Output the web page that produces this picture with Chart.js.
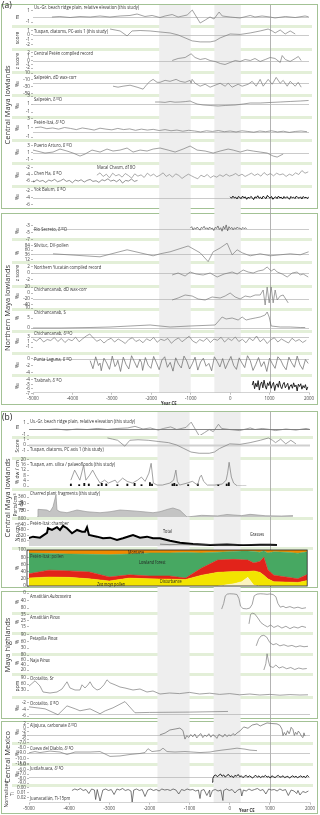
<!DOCTYPE html>
<html>
<head>
<meta charset="utf-8">
<title>Palaeoclimate and land-use records, Maya region</title>
<script src="https://cdn.jsdelivr.net/npm/chart.js@4.4.1/dist/chart.umd.min.js"></script>
<style>
  html,body{margin:0;padding:0;background:#fff;}
  #fig{position:relative;width:320px;height:815px;overflow:hidden;font-family:"Open Sans",sans-serif;color:#333;}
  #fig canvas{position:absolute;left:0;}
  .box{position:absolute;left:1px;width:317px;border:1px solid #a3c295;box-sizing:border-box;}
  .t{position:absolute;font-size:5.2px;line-height:6px;white-space:nowrap;color:#333;transform:scaleX(0.8);transform-origin:0 0;}
  .s{position:absolute;font-size:4.8px;line-height:5px;white-space:nowrap;color:#222;transform:scaleX(0.8);transform-origin:0 0;}
  .u{position:absolute;font-size:5px;line-height:5.5px;white-space:nowrap;text-align:center;transform:translate(-50%,-50%) rotate(-90deg);}
  .reg{position:absolute;font-size:7.5px;white-space:nowrap;transform:translate(-50%,-50%) rotate(-90deg);color:#333;}
  .pl{position:absolute;font-size:8.5px;line-height:9px;color:#222;}
  sup{font-size:70%;line-height:0;position:relative;top:-0.35em;vertical-align:baseline;}
</style>
</head>
<body>
<div id="fig"></div>
<script>
const F = '"Open Sans", sans-serif';
Chart.defaults.font.family = F;

// ---------- data: [year CE, value] ----------
const usgr = [[-4520,-0.09],[-4320,0],[-4060,-0.18],[-3810,0],[-3550,-0.09],[-3300,0.09],[-3050,-0.09],[-2790,0.09],[-2540,0.18],[-2360,0.44],[-2160,0],[-1980,0.18],[-1780,-0.18],[-1650,0.09],[-1470,0.35],[-1320,-0.09],[-1090,0.26],[-960,1.14],[-760,-1.15],[-630,-0.61],[-510,-0.09],[-410,-0.44],[-280,0.79],[-200,0.09],[0,-0.09],[250,-0.26],[510,0.18],[630,-0.09],[810,0.09],[1010,-0.09],[1140,-0.26],[1400,0],[1650,-0.18],[1900,0.09],[1990,-0.05]];
const tuspanDiatoms = [[-3046,1.28],[-2919,1.07],[-2792,0.86],[-2614,-0.21],[-2487,0.86],[-2284,0.96],[-2030,0.86],[-1777,0.64],[-1523,0.43],[-1320,0],[-1142,-0.64],[-964,-1.28],[-761,-1.5],[-508,-1.5],[-381,-1.28],[-254,-0.64],[0,0.21],[254,0.11],[508,0.43],[761,0.86],[964,1.28],[1066,0.86],[1142,0.43],[1269,1.07],[1396,0.21],[1523,0.86],[1650,0.21]];
const centralPeten = [[-1470,0],[-1320,0.53],[-1140,0.79],[-990,1.76],[-890,0.79],[-760,0.26],[-630,0.53],[-510,0],[-380,-0.26],[-250,-0.79],[-130,-1.05],[0,-0.53],[130,0],[250,-0.26],[380,0.26],[510,0],[630,0.53],[760,-0.26],[890,0.26],[1015,0.79],[1140,0.53],[1270,-0.53],[1320,1.3],[1400,0.26],[1520,-0.26],[1650,0.53],[1730,1.05],[1800,0]];
const salpetenDD = [[-2970,-29],[-2843,-31.9],[-2716,-29],[-2538,-26.1],[-2360,-31.9],[-2208,-37.7],[-2107,-23.2],[-2030,-14.6],[-1954,-8.8],[-1853,-17.5],[-1777,-17.5],[-1650,-11.7],[-1523,-14.6],[-1371,-8.8],[-1269,-14.6],[-1142,-17.5],[-1015,-11.7],[-990,-20.3],[-964,-8.8],[-888,-20.3],[-761,-29],[-634,-23.2],[-508,-31.9],[-381,-26.1],[-254,-20.3],[-127,-29],[-51,-20.3],[51,-31.9],[203,-23.2],[305,-29],[457,-23.2],[558,-14.6],[660,-29],[761,-8.8],[838,-29],[965,-8.8],[1066,-23.2],[1168,-3],[1269,-20.3],[1345,-11.7],[1447,-29],[1523,-14.6],[1650,-29],[1726,-17.5],[1802,-31.9]];
const salpetenO = [[-1904,1.5],[-1777,1.5],[-1650,1.4],[-1523,1.63],[-1400,1.45],[-1269,1.5],[-1140,1.6],[-1015,1.75],[-964,1.5],[-838,1],[-685,0.75],[-508,0.63],[-305,0.5],[-127,0.63],[127,0.75],[330,1],[508,1.25],[761,1.25],[1015,1.38],[1269,1.5],[1523,1.63],[1777,1.75],[1990,1.88]];
const petenItza = [[-4950,1.0],[-4800,1.15],[-4650,0.8],[-4500,0.95],[-4350,0.7],[-4200,1.05],[-4050,0.85],[-3900,0.6],[-3750,0.95],[-3600,0.75],[-3450,0.5],[-3300,0.9],[-3150,0.7],[-3000,0.55],[-2850,0.85],[-2700,0.6],[-2550,0.75],[-2400,0.45],[-2250,0.7],[-2100,0.5],[-1950,0.65],[-1800,0.4],[-1650,0.6],[-1500,0.35],[-1350,0.5],[-1200,0.25],[-1050,0.45],[-900,0.3],[-750,0.1],[-600,0.35],[-450,0.2],[-300,0.4],[-150,0.15],[0,0.3],[150,0.1],[300,0.35],[450,0.2],[600,0.05],[750,0.3],[900,0.15],[1050,0.35],[1200,0.1],[1350,0.25],[1500,0.0],[1650,0.2],[1800,0.3],[1950,0.15]];
const puertoArturo = [[-5000,1.71],[-4898,1.43],[-4695,0.86],[-4492,1.14],[-4315,2],[-4137,1.43],[-3985,0.86],[-3807,0],[-3680,0.57],[-3503,1.71],[-3299,1.14],[-3122,2],[-2970,1.43],[-2792,1.71],[-2614,2.29],[-2462,1.14],[-2284,1.71],[-2107,1.43],[-1954,2],[-1777,2.29],[-1574,1.71],[-1396,1.14],[-1193,2],[-1015,2.86],[-838,1.71],[-634,1.43],[-431,0.86],[-254,1.43],[-51,2],[76,1.71],[254,1.14],[432,1.71],[584,1.43],[761,1.14],[939,0.86],[1091,0],[1193,-0.29],[1345,0.57]];
const chenHa = [[-5000,-5.9],[-4980,-6.3],[-4900,-5.6],[-4830,-6.1],[-4750,-5.8],[-4680,-6.4],[-4600,-5.7],[-4530,-6.0],[-4450,-5.5],[-4380,-6.2],[-4300,-5.9],[-4230,-5.4],[-4150,-6.1],[-4080,-5.8],[-4000,-6.5],[-3930,-5.7],[-3850,-6.0],[-3780,-5.6],[-3700,-6.3],[-3630,-5.8],[-3550,-5.5],[-3480,-6.1],[-3400,-5.9],[-3330,-6.4],[-3250,-5.6],[-3180,-5.9],[-3100,-5.3],[-3030,-6.0],[-2950,-5.7],[-2880,-6.2],[-2800,-5.5],[-2730,-6.6],[-2650,-5.8],[-2580,-6.0],[-2500,-5.4],[-2430,-6.1],[-2350,-5.8]];
const macalChasm = [[-3380,-4.2],[-3300,-3.5],[-3220,-4.6],[-3140,-3.9],[-3060,-5.0],[-2980,-3.6],[-2900,-4.4],[-2820,-4.0],[-2740,-4.8],[-2660,-3.7],[-2580,-4.3],[-2500,-5.1],[-2420,-3.8],[-2340,-4.5],[-2260,-4.1],[-2180,-4.9],[-2100,-3.6],[-2020,-4.4],[-1940,-3.9],[-1860,-4.7],[-1780,-4.2],[-1700,-3.5],[-1620,-4.6],[-1540,-4.0],[-1460,-4.8],[-1380,-3.8],[-1300,-4.3],[-1220,-5.2],[-1140,-4.5],[-1060,-3.9],[-980,-4.4],[-900,-4.9],[-820,-5.3],[-740,-4.2],[-660,-4.7],[-580,-4.0],[-500,-5.0],[-420,-4.4],[-340,-4.8],[-260,-4.1],[-180,-4.6],[-100,-3.9],[-20,-4.5],[60,-4.2],[140,-3.7],[220,-4.4],[300,-3.9],[380,-4.6],[460,-4.1],[540,-3.6],[620,-4.3],[700,-3.8],[780,-4.5],[860,-3.4],[940,-4.2],[1020,-3.7],[1100,-4.4],[1180,-3.6],[1260,-4.1],[1340,-3.8],[1420,-4.6],[1500,-3.9],[1580,-4.3],[1660,-3.5],[1740,-4.0],[1820,-2.8],[1900,-3.6],[1980,-3.2]];
const yokBalum = [[0,-3.8],[35,-4.2],[70,-3.6],[105,-4.1],[140,-3.9],[175,-4.4],[210,-3.7],[245,-4.0],[280,-4.3],[315,-3.6],[350,-4.1],[385,-3.8],[420,-4.5],[455,-3.9],[490,-4.2],[525,-3.7],[560,-4.0],[595,-4.6],[630,-3.8],[665,-4.1],[700,-3.5],[735,-4.2],[770,-3.9],[805,-4.4],[840,-3.6],[875,-4.0],[910,-4.3],[945,-3.4],[980,-3.9],[1015,-4.2],[1050,-3.7],[1085,-4.5],[1120,-4.0],[1155,-3.8],[1190,-4.3],[1225,-3.6],[1260,-4.1],[1295,-3.9],[1330,-4.4],[1365,-3.7],[1400,-4.2],[1435,-3.8],[1470,-4.0],[1505,-4.5],[1540,-3.7],[1575,-4.1],[1610,-3.9],[1645,-4.3],[1680,-3.6],[1715,-4.0],[1750,-4.2],[1785,-3.8],[1820,-4.4],[1855,-3.7],[1890,-4.1],[1925,-3.9],[1960,-4.3],[1990,-3.8]];
const rioSecreto = [[-1010,-3.6],[-975,-3.2],[-940,-4.1],[-905,-3.5],[-870,-3.9],[-835,-3.3],[-800,-3.8],[-765,-4.2],[-730,-3.4],[-695,-3.7],[-660,-3.1],[-625,-3.9],[-590,-3.5],[-555,-4.0],[-520,-3.3],[-485,-3.8],[-450,-3.6],[-415,-4.3],[-380,-3.4],[-345,-3.7],[-310,-3.0],[-275,-4.0],[-240,-3.5],[-205,-4.5],[-170,-3.1],[-135,-3.9],[-100,-2.7],[-65,-4.4],[-30,-3.2],[5,-3.8],[40,-3.4],[75,-4.1],[110,-3.5],[145,-3.9],[180,-3.3],[215,-3.7],[250,-3.6],[285,-4.0],[320,-3.4],[355,-3.8],[390,-3.5],[420,-3.9]];
const silvituc = [[-4492,41],[-3300,26],[-2614,61],[-2284,46],[-1954,31],[-1777,41],[-1523,51],[-1066,80],[-761,46],[-558,2],[-431,51],[-254,70],[-76,94],[51,36],[178,61],[305,46],[508,31],[761,41],[1015,31],[1269,36],[1523,41],[1777,36],[1990,51]];
const nYucatan = [[-1472,-0.6],[-1320,0],[-1142,-0.9],[-1015,0.3],[-863,-0.3],[-685,-0.6],[-508,0],[-330,-1.2],[-152,-0.3],[51,0.3],[178,-0.3],[330,0.9],[457,0.3],[584,0],[711,0.6],[838,0.9],[939,1.8],[1041,0.6],[1117,1.2],[1193,0.3],[1320,-0.3],[1447,-1.2],[1574,0],[1701,0.3],[1777,-0.6],[1853,-0.3],[1980,-1.2]];
const chichDD = [[-1472,-23.3],[-1320,-16.7],[-1142,-6.7],[-964,-10],[-812,-20],[-634,-23.3],[-457,-13.3],[-254,-16.7],[-127,-10],[0,0],[127,-13.3],[254,-20],[381,-10],[508,-13.3],[635,-6.7],[761,-6.7],[838,10],[888,-40],[939,20],[990,-33],[1041,20],[1091,-33],[1142,10],[1193,-23.3],[1269,-10],[1345,-6.7],[1472,-33]];
const chichS = [[-5000,0],[-4315,0],[-3553,0.25],[-3046,0.5],[-2538,1],[-2030,1.5],[-1777,1],[-1523,0.5],[-1015,1],[-381,1.5],[-203,5.5],[-102,4.5],[51,5],[203,4],[305,5.5],[406,4],[508,4.5],[635,5],[761,5.5],[888,6.5],[939,8],[990,5.5],[1041,1],[1269,0.5],[1523,0.5],[1777,0.25],[1904,0.25]];
const chichO = [[-5000,2.2],[-4910,1.4],[-4820,2.6],[-4730,1.0],[-4640,2.0],[-4550,1.6],[-4460,2.8],[-4370,1.2],[-4280,2.4],[-4190,0.8],[-4100,2.1],[-4010,1.5],[-3920,2.9],[-3830,1.1],[-3740,2.3],[-3650,3.4],[-3560,4.2],[-3470,2.6],[-3380,1.3],[-3290,2.0],[-3200,0.6],[-3110,1.8],[-3020,2.5],[-2930,1.0],[-2840,2.2],[-2750,1.4],[-2660,0.4],[-2570,2.0],[-2480,2.7],[-2390,1.2],[-2300,1.9],[-2210,0.7],[-2120,2.3],[-2030,1.5],[-1940,2.8],[-1850,0.9],[-1760,2.1],[-1670,1.6],[-1580,2.4],[-1490,0.5],[-1400,1.8],[-1310,2.6],[-1220,1.1],[-1130,2.2],[-1040,3.3],[-950,1.4],[-860,0.6],[-770,2.0],[-680,1.3],[-590,2.5],[-500,0.8],[-410,2.2],[-320,1.7],[-230,2.9],[-140,1.0],[-50,2.4],[40,1.6],[130,3.0],[220,1.2],[310,2.1],[400,0.7],[490,2.6],[580,1.5],[670,3.4],[760,1.1],[850,2.3],[940,0.4],[1030,1.9],[1120,2.7],[1210,1.0],[1300,2.2],[1390,1.4],[1480,0.6],[1570,2.5],[1660,1.3],[1750,2.0],[1840,0.8],[1930,1.7]];
const puntaLaguna = [[-3550,-0.5],[-3480,-2.8],[-3410,0.6],[-3340,-1.9],[-3300,-1.2],[-3270,-3.4],[-3200,0.2],[-3130,-1.2],[-3060,-3.0],[-2990,0.8],[-2920,-2.2],[-2880,-1.5],[-2850,-0.4],[-2780,-3.6],[-2710,0.5],[-2640,-1.6],[-2570,-2.9],[-2500,0.9],[-2430,-0.8],[-2360,-2.5],[-2290,-0.1],[-2250,-1.0],[-2220,-3.3],[-2150,0.4],[-2080,-1.8],[-2010,-2.7],[-1940,0.7],[-1870,-1.1],[-1800,-3.1],[-1730,-0.3],[-1660,0.6],[-1590,-2.4],[-1520,-1.0],[-1450,-3.5],[-1380,0.3],[-1310,-1.5],[-1240,-2.6],[-1170,0.8],[-1100,-0.6],[-1030,-2.9],[-960,-1.4],[-890,0.5],[-820,-3.2],[-750,-0.9],[-680,0.2],[-610,-2.1],[-540,-1.3],[-470,-3.4],[-400,0.6],[-330,-0.7],[-260,-2.3],[-190,0.1],[-120,-2.8],[-50,-1.0],[20,0.7],[90,-1.9],[160,-3.0],[230,0.3],[300,-1.2],[370,-2.5],[440,0.9],[510,-0.5],[580,-3.3],[650,-1.6],[720,0.4],[790,-2.2],[860,-0.8],[930,-3.6],[1000,0.2],[1070,-1.4],[1140,-2.7],[1210,0.6],[1280,-0.3],[1350,-2.0],[1420,-3.1],[1490,0.5],[1560,-1.1],[1630,-2.4],[1700,0.8],[1770,-1.7],[1840,-3.0],[1910,-0.2],[1980,-1.3]];
const tzabnah = [[560,-5.2],[590,-4.3],[620,-6.0],[650,-4.8],[680,-5.6],[710,-4.2],[740,-6.3],[770,-5.0],[800,-4.5],[830,-5.8],[860,-4.1],[890,-5.4],[920,-6.1],[950,-4.7],[980,-5.3],[1010,-4.4],[1040,-5.9],[1070,-5.1],[1100,-4.6],[1130,-6.4],[1160,-5.2],[1190,-4.9],[1220,-5.7],[1250,-4.3],[1280,-5.5],[1310,-6.0],[1340,-5.0],[1370,-4.6],[1400,-5.8],[1430,-5.3],[1460,-4.8],[1490,-6.2],[1520,-5.4],[1550,-5.1],[1580,-5.9],[1610,-4.7],[1640,-5.6],[1670,-5.2],[1700,-6.5],[1730,-5.0],[1760,-5.5],[1790,-4.9],[1820,-6.1],[1850,-5.3],[1880,-5.8],[1910,-5.1],[1940,-6.3],[1970,-5.6]];

const amSilica = [[-4776,4.4],[-4651,11.9],[-4477,4.4],[-4352,15.6],[-4278,4.4],[-4153,8.1],[-4053,11.9],[-3929,6.7],[-3804,2.2],[-3655,4.4],[-3530,2.2],[-3306,4.4],[-3231,2.2],[-3057,5.9],[-2908,3.5],[-2733,2.2],[-2559,4.4],[-2434,6.7],[-2310,3.5],[-2185,9.6],[-2110,17],[-2036,2.2],[-1911,0.7],[-1737,0.7],[-1488,2.2],[-1363,4.4],[-1288,11.9],[-1239,3.5],[-1164,0.7],[-915,2.2],[-740,3.5],[-566,0.7],[-491,6.7],[-442,8.1],[-367,3.5],[-242,0.7],[7,0.7],[256,1.5],[381,4.4],[430,9.6],[480,17.8],[555,6.7],[630,2.2],[754,0],[929,0],[1053,0]];
const palaeofloods = [[-4776,1.5],[-4500,1],[-4330,2],[-4180,1.5],[-3860,1],[-3750,2],[-3600,1.5],[-3230,1],[-2900,1.5],[-2660,2],[-2430,1],[-2150,2.5],[-2080,1.5],[-1400,1.5],[-1340,2],[-1260,1],[-880,1],[-560,1.5],[120,1],[400,1.5],[470,2.5]];
const charred = [[-4800,0],[-4776,138],[-4552,126],[-4477,95],[-4402,185],[-4328,396],[-4303,126],[-4228,95],[-4053,77],[-3804,126],[-3555,95],[-3231,77],[-2982,95],[-2733,126],[-2409,110],[-2160,95],[-1911,77],[-1737,95],[-1538,140],[-1413,162],[-1239,120],[-1064,0],[-700,30],[-300,20],[-68,45],[300,25],[505,48],[900,22],[1300,18],[1575,25]];
const chamberTotal = [[-5025,229],[-4900,277],[-4726,247],[-4552,387],[-4527,527],[-4427,476],[-4303,556],[-4228,476],[-4153,595],[-4053,527],[-3929,378],[-3804,476],[-3680,426],[-3605,426],[-3555,556],[-3505,327],[-3306,277],[-3157,229],[-2982,247],[-2808,179],[-2659,229],[-2484,298],[-2409,327],[-2235,247],[-2061,277],[-1911,229],[-1737,229],[-1488,158],[-1239,98],[-915,60],[-491,30],[-68,45],[331,25],[754,35],[1003,40],[1178,30]];
const chamberGrasses = [[-1737,55],[-1488,40],[-1239,50],[-915,35],[-491,45],[-68,30],[331,40],[754,30],[1003,35],[1178,25]];
const pollenYears = [-5050,-4500,-4000,-3500,-3000,-2500,-2000,-1500,-1100,-700,-300,100,300,450,600,750,850,950,1100,1400,1700,1930];
const zeaPollen   = [0,0,0,0,0,0,0,0,0,0,0,6,12,24,2,0,0,0,0,0,0,0];
const disturbance = [22,25,24,20,14,22,20,19,18,30,38,34,28,16,40,38,30,20,12,11,10,15];
const redGroup    = [11,19,18,19,11,9,8,9,4,20,34,34,33,32,22,30,50,25,18,14,10,17];
const lowland     = [59,46,47,49,62,58,64,64,71,42,22,22,24,25,32,26,18,47,65,69,71,63];
const montane     = [8,10,11,12,13,11,8,8,7,8,6,4,3,3,4,6,2,8,5,6,9,5];
const zeaMarks    = [-810,-160,260,461,686,835,960,1334];
const aulacoseira = [[-200,85],[-150,55],[-110,15],[-60,6],[0,4],[100,5],[180,8],[230,30],[270,70],[330,82],[420,84],[500,80],[560,60],[610,15],[680,6],[760,4],[850,5],[930,7],[1000,5],[1080,8],[1150,20],[1200,55],[1260,75],[1330,70],[1400,78],[1500,72],[1600,80],[1700,75],[1800,82],[1900,78]];
const amatitlanPinus = [[480,20],[520,36],[560,38],[620,37],[700,30],[780,22],[860,18],[940,15],[1020,18],[1100,14],[1200,17],[1300,13],[1400,16],[1500,12],[1600,15],[1700,13],[1800,16],[1900,14]];
const petapillaPinus = [[660,40],[720,70],[780,85],[850,88],[920,80],[1000,55],[1080,45],[1160,50],[1250,40],[1350,45],[1450,38],[1550,42],[1650,35],[1750,40],[1850,36],[1950,38]];
const najaPinus = [[850,20],[900,45],[930,85],[960,60],[1000,35],[1080,30],[1150,40],[1230,28],[1320,33],[1420,25],[1520,30],[1620,22],[1720,28],[1820,24],[1920,26]];
const ocotalitoSr = [[-5025,45],[-4850,76],[-4726,50],[-4651,20],[-4477,15],[-4303,20],[-4178,35],[-4053,71],[-3979,40],[-3854,30],[-3730,30],[-3680,56],[-3605,40],[-3530,56],[-3480,71],[-3406,45],[-3306,30],[-3231,35],[-3132,56],[-3057,81],[-2982,66],[-2858,56],[-2733,45],[-2609,40],[-2409,30],[-2235,35],[-2061,20],[-1911,25],[-1737,10],[-1500,15],[-1250,12],[-1000,18],[-750,10],[-500,14],[-250,8],[0,12],[250,6],[500,10],[750,5],[1000,8],[1250,4],[1500,7],[1750,5],[1950,6]];
const ocotalitoO = [[-5000,-3.2],[-4600,-3.8],[-4278,-5.6],[-4053,-2.9],[-3850,-3.8],[-3730,-4.4],[-3480,-3.8],[-3231,-5.3],[-3100,-4.4],[-2908,-3.5],[-2609,-1.6],[-2360,-5.0],[-2000,-4.9],[-1000,-4.8],[-43,-4.6]];
const aljojuca = [[-1740,-3.8],[-1610,-2.8],[-1490,-1.2],[-1360,-0.7],[-1240,-0.2],[-1165,-1.5],[-1115,-6.0],[-1070,-4.2],[-1020,-5.1],[-970,-3.6],[-920,-4.8],[-870,-3.3],[-820,-5.4],[-770,-4.0],[-720,-3.1],[-670,-5.2],[-620,-3.9],[-570,-4.6],[-520,-3.2],[-470,-5.0],[-420,-3.7],[-370,-4.4],[-320,-5.6],[-270,-3.5],[-220,-4.1],[-170,-4.9],[-120,-3.4],[-70,-4.7],[-20,-3.8],[30,-4.3],[80,-3.1],[130,-3.9],[180,-2.8],[256,-1.7],[350,0.4],[455,-0.3],[560,1.4],[680,2.0],[760,0.9],[830,1.6],[930,2.5],[1050,2.2],[1178,2.0],[1250,1.2],[1302,-0.8],[1327,-4.2],[1360,-2.5],[1400,-3.9],[1440,-1.6],[1480,-3.2],[1502,-2.0],[1530,0.2],[1576,-1.0],[1610,-4.1],[1640,-2.4],[1676,-3.6],[1710,-1.8],[1750,-2.9],[1790,-4.6],[1825,-5.2],[1850,-2.7],[1875,-4.4]];
const cuevaDiablo = [[-5000,-8.96],[-4851,-8.72],[-4726,-8.91],[-4477,-8.63],[-4228,-8.81],[-4053,-9.28],[-3854,-8.81],[-3480,-8.81],[-3231,-8.72],[-2982,-9.65],[-2733,-9.56],[-2484,-9.28],[-2235,-9.09],[-2110,-8.91],[-2036,-8.17],[-1936,-8.72],[-1737,-8.54],[-1662,-8.07],[-1562,-8.72],[-1363,-8.81],[-1114,-8.72],[-740,-8.91],[-491,-8.81],[-367,-8.63],[-192,-8.44],[7,-8.26],[181,-8.07],[381,-8.26],[505,-8.44],[680,-8.54]];
const juxtlahuaca = [[-440,-8.8],[-420,-8.0],[-390,-7.4],[-350,-7.2],[-310,-7.6],[-270,-7.3],[-230,-7.0],[-190,-7.5],[-150,-7.2],[-110,-7.7],[-70,-7.3],[-30,-7.1],[10,-7.6],[50,-7.4],[90,-7.8],[130,-7.3],[170,-7.5],[210,-7.1],[250,-7.6],[290,-7.4],[330,-7.8],[370,-7.5],[410,-7.3],[450,-7.7],[490,-7.4],[530,-7.6],[570,-7.9],[610,-7.5],[650,-7.3],[690,-7.7],[730,-7.4],[770,-7.8],[810,-7.5],[850,-7.6],[890,-7.3],[930,-7.7],[970,-7.5],[1010,-7.9],[1050,-7.4],[1090,-7.6],[1130,-7.8],[1170,-7.5],[1210,-7.3],[1250,-7.7],[1290,-7.6],[1330,-7.4],[1370,-7.8],[1410,-7.6],[1450,-7.5],[1490,-7.9],[1530,-7.6],[1570,-7.4],[1610,-7.7],[1650,-7.5],[1690,-7.8],[1730,-7.6],[1770,-7.4],[1810,-7.7],[1850,-7.5],[1890,-7.8],[1930,-7.3],[1970,-7.6]];
const juanacatlan = [[-3930,0.006],[-3860,0.003],[-3790,0.005],[-3720,0.002],[-3650,0.006],[-3580,0.004],[-3510,0.012],[-3440,0.003],[-3370,0.005],[-3340,0.024],[-3300,0.004],[-3230,0.027],[-3160,0.005],[-3090,0.003],[-3020,0.006],[-2950,0.004],[-2880,0.014],[-2810,0.003],[-2740,0.005],[-2670,0.002],[-2600,0.006],[-2530,0.004],[-2460,0.007],[-2430,0.029],[-2390,0.005],[-2320,0.003],[-2250,0.006],[-2180,0.004],[-2110,0.018],[-2040,0.005],[-1970,0.003],[-1900,0.006],[-1830,0.004],[-1760,0.007],[-1690,0.003],[-1620,0.005],[-1550,0.004],[-1480,0.006],[-1410,0.003],[-1340,0.005],[-1270,0.013],[-1200,0.004],[-1130,0.006],[-1060,0.003],[-990,0.005],[-920,0.004],[-850,0.007],[-780,0.005],[-740,0.022],[-710,0.006],[-640,0.004],[-570,0.016],[-500,0.005],[-490,0.019],[-430,0.006],[-360,0.004],[-290,0.007],[-220,0.005],[-170,0.026],[-150,0.006],[-80,0.003],[-10,0.006],[60,0.004],[130,0.011],[200,0.005],[270,0.003],[300,0.017],[340,0.005],[410,0.007],[480,0.003],[550,0.006],[620,0.004],[690,0.002],[760,0.006],[830,0.004],[900,0.013],[970,0.003],[1040,0.005],[1110,0.004],[1180,0.007],[1250,0.003],[1320,0.006],[1390,0.004],[1460,0.016],[1530,0.005],[1600,0.007],[1670,0.012],[1700,0.006],[1750,0.015],[1820,0.008],[1890,0.010],[1960,0.007]];

const xTicks = [-5000,-4000,-3000,-2000,-1000,0,1000,2000];
const grayBands = [[-1800,-1000],[-400,270]];
const markYear = 1000;

// ---------- helpers ----------
const fig = document.getElementById('fig');
function pts(p){ return p.map(d => ({x:d[0], y:d[1]})); }
function ln(p, o){
  return Object.assign({type:'line', data:pts(p), borderColor:'#7b7b7b', borderWidth:0.7, pointRadius:0, fill:false, tension:0}, o || {});
}
function canvas(top, h){
  const c = document.createElement('canvas');
  c.width = 320; c.height = h;
  c.style.top = top + 'px';
  fig.appendChild(c);
  return c;
}
function div(cls, html, x, y){
  const d = document.createElement('div');
  d.className = cls; d.innerHTML = html;
  d.style.left = x + 'px'; d.style.top = y + 'px';
  fig.appendChild(d);
  return d;
}
function box(top, bottom){
  const d = document.createElement('div');
  d.className = 'box'; d.style.top = top + 'px'; d.style.height = (bottom - top) + 'px';
  fig.appendChild(d);
}

function bgChart(top, bottom, xl, xr, stripes){
  const c = canvas(top, bottom - top);
  new Chart(c, {
    type:'line',
    data:{datasets:[]},
    options:{
      responsive:false, animation:false, events:[],
      layout:{padding:{left:xl, right:320 - xr, top:0, bottom:0}},
      plugins:{legend:{display:false}, tooltip:{enabled:false}},
      scales:{
        x:{type:'linear', min:-5000, max:2000,
           afterBuildTicks(s){ s.ticks = xTicks.map(v => ({value:v})); },
           ticks:{font:{size:4.4}, color:'#444', padding:1, maxRotation:0, autoSkip:false, callback:v => String(v)},
           grid:{drawOnChartArea:false, tickLength:2, color:'#999', lineWidth:0.6},
           border:{color:'#b5b5b5', width:0.6}},
        y:{display:false, min:0, max:1}
      }
    },
    plugins:[{id:'bg', beforeDraw(ch){
      const ctx = ch.ctx, a = ch.chartArea, x = ch.scales.x;
      ctx.save();
      ctx.fillStyle = '#e3efd8';
      stripes.forEach(s => ctx.fillRect(12, s - top, xr + 3 - 12, 3));
      ctx.fillStyle = '#eeeeee';
      grayBands.forEach(b => {
        const x0 = x.getPixelForValue(b[0]), x1 = x.getPixelForValue(b[1]);
        ctx.fillRect(x0, 0, x1 - x0, a.bottom);
      });
      ctx.strokeStyle = '#a0a0a0'; ctx.lineWidth = 0.8;
      const xm = Math.round(x.getPixelForValue(markYear)) + 0.5;
      ctx.beginPath(); ctx.moveTo(xm, 0); ctx.lineTo(xm, a.bottom); ctx.stroke();
      ctx.restore();
    }}]
  });
}

function rowChart(r, xl, xr){
  const pad = 6;
  const c = canvas(r.top - pad, r.bot - r.top + 2 * pad);
  new Chart(c, {
    type:'line',
    data:{datasets:r.sets},
    options:{
      responsive:false, animation:false, events:[],
      layout:{padding:{left:0, right:320 - xr, top:pad, bottom:pad}},
      plugins:{legend:{display:false}, tooltip:{enabled:false}},
      scales:{
        x:{type:'linear', min:-5000, max:2000, display:false},
        y:{type:'linear', min:r.min, max:r.max, reverse:!!r.rev, stacked:!!r.stacked,
           afterFit(s){ s.width = xl; },
           afterBuildTicks(s){ s.ticks = r.ticks.map(v => ({value:v})); },
           border:{display:false},
           grid:{drawOnChartArea:false, tickLength:2, color:'#777', lineWidth:0.5},
           ticks:{font:{size:4.6}, color:'#444', padding:1, autoSkip:false,
                  callback:v => r.fmt ? r.fmt(v) : String(v)}}
      }
    },
    plugins:[{id:'deco',
      beforeDatasetsDraw(ch){
        if(r.base === undefined) return;
        const ctx = ch.ctx, a = ch.chartArea, y = Math.round(ch.scales.y.getPixelForValue(r.base)) + 0.5;
        ctx.save(); ctx.strokeStyle = r.baseColor || '#b3b3b3'; ctx.lineWidth = r.baseW || 0.7;
        ctx.beginPath(); ctx.moveTo(a.left, y); ctx.lineTo(a.right, y); ctx.stroke(); ctx.restore();
      },
      afterDatasetsDraw(ch){
        if(!r.frame) return;
        const ctx = ch.ctx, a = ch.chartArea, x = ch.scales.x;
        const x0 = x.getPixelForValue(r.frame[0]), x1 = x.getPixelForValue(r.frame[1]);
        ctx.save(); ctx.strokeStyle = '#222'; ctx.lineWidth = 0.8;
        ctx.strokeRect(x0, a.top, x1 - x0, a.bottom - a.top); ctx.restore();
      }}]
  });
}

// ---------- layout: panel (a) ----------
const AXL = 33, AXR = 309;
const rowsA = [
  {top:8, bot:25, min:-1.5, max:1.5, ticks:[1,-1], base:0, sets:[ln(usgr)]},
  {top:28, bot:47, min:-2.6, max:1.5, ticks:[1,0,-1,-2], base:0, sets:[ln(tuspanDiatoms)]},
  {top:51, bot:70, min:-2.5, max:2.5, ticks:[2,1,0,-1,-2], base:0, sets:[ln(centralPeten)]},
  {top:72.5, bot:95, min:-55, max:10, ticks:[10,-10,-30,-50], base:-20, sets:[ln(salpetenDD)]},
  {top:96, bot:116, min:-2, max:3, ticks:[3,1,-1], base:1, sets:[ln(salpetenO)]},
  {top:117, bot:138, min:-1.2, max:3.3, ticks:[3,1,-1], base:0, sets:[ln(petenItza)]},
  {top:141, bot:162, min:-1.7, max:4.3, ticks:[3,1,-1], base:1, sets:[ln(puertoArturo)]},
  {top:164, bot:186, min:-7.5, max:-0.8, ticks:[-2,-4,-6], sets:[ln(chenHa,{borderColor:'#666'}), ln(macalChasm,{borderColor:'#8a8a8a'})]},
  {top:187, bot:207, min:-6.7, max:-1, ticks:[-2,-4,-6], base:-4, sets:[ln(yokBalum,{borderColor:'#111', borderWidth:1})]},
  {top:219, bot:242, min:-7.6, max:-1, ticks:[-3,-5,-7], base:-4, sets:[ln(rioSecreto,{borderColor:'#555'})]},
  {top:243, bot:262.5, min:0, max:95, ticks:[84,60,36,12], base:40, sets:[ln(silvituc)]},
  {top:263, bot:283, min:-3, max:3, ticks:[2,0,-2], base:0, sets:[ln(nYucatan)]},
  {top:285, bot:307, min:-46.7, max:26.7, ticks:[20,0,-20,-40], base:-20, sets:[ln(chichDD)]},
  {top:306, bot:329, min:-0.5, max:11, ticks:[10,5,0], base:0, sets:[ln(chichS)]},
  {top:331, bot:351, min:-2.6, max:5.4, ticks:[3,1,-1], base:3, sets:[ln(chichO)]},
  {top:354, bot:376, min:-4.9, max:1.4, ticks:[0,-2,-4], base:0, sets:[ln(puntaLaguna,{borderColor:'#666'})]},
  {top:377, bot:395, min:-7.4, max:-3.4, ticks:[-4,-5,-6,-7], sets:[ln(tzabnah,{borderColor:'#111', borderWidth:0.9})]}
];
const titlesA = [
  [7,'Us.-Gr. beach ridge plain, relative elevation (this study)','m'],
  [31,'Tuspan, diatoms, PC-axis 1 (this study)','score'],
  [53,'Central Petén compiled record','z score'],
  [77,'Salpetén, dD wax-corr','‰'],
  [99,'Salpetén, δ<sup>18</sup>O','‰'],
  [122,'Petén-Itzá, δ<sup>18</sup>O','‰'],
  [145,'Puerto Arturo, δ<sup>18</sup>O','‰'],
  [173,'Chen Ha, δ<sup>18</sup>O','‰'],
  [189,'Yok Balum, δ<sup>18</sup>O','‰'],
  [229,'Rio Secreto, δ<sup>18</sup>O','‰'],
  [245,'Silvituc, DV-pollen','%'],
  [267,'Northern Yucatán compiled record','z score'],
  [289,'Chichancanab, dD wax-corr','‰'],
  [312,'Chichancanab, S','%'],
  [333,'Chichancanab, δ<sup>18</sup>O','‰'],
  [359,'Punta Laguna, δ<sup>18</sup>O','‰'],
  [380,'Tzabnah, δ<sup>18</sup>O','‰']
];

// ---------- layout: panel (b) ----------
const BXL = 29, BXR = 310;
const oneDec = v => v.toFixed(1);
const twoDec = v => v.toFixed(2);
const pollenSet = (vals, col, fill) => ({type:'line', data:pollenYears.map((y,i) => ({x:y, y:vals[i]})), borderColor:col, borderWidth:0.5, backgroundColor:col, pointRadius:0, fill:fill, stack:'p', tension:0});
const rowsB = [
  {top:419, bot:435, min:-1, max:1.67, ticks:[1,-1], base:0, baseColor:'#555', sets:[ln(usgr)]},
  {top:435, bot:456, min:-2, max:1.82, ticks:[1,0,-1], base:0, baseColor:'#cfcfcf', baseW:2, sets:[ln(tuspanDiatoms)]},
  {top:457.5, bot:486, min:0, max:21, ticks:[20,16,12,8,4,0], sets:[
    ln(amSilica),
    {type:'bar', data:pts(palaeofloods), backgroundColor:'#111', barThickness:1.2, grouped:false}]},
  {top:492, bot:517, min:0, max:450, ticks:[360,240,120], sets:[ln(charred,{borderColor:'#9a9a9a', backgroundColor:'#c4c4c4', fill:'origin'})]},
  {top:518, bot:546, min:0, max:830, ticks:[800,640,480,320,160], sets:[
    ln(chamberGrasses,{borderColor:'#555', borderWidth:0.6}),
    ln(chamberTotal,{borderColor:'#000', borderWidth:2, backgroundColor:'#d6d6d6', fill:'origin'})]},
  {top:549.5, bot:586, min:0, max:100, ticks:[100,80,60,40,20,0], stacked:true, frame:[-5050,1930], sets:[
    pollenSet(zeaPollen,'#fbf3bf','origin'),
    pollenSet(disturbance,'#f2e400','-1'),
    pollenSet(redGroup,'#e2231a','-1'),
    pollenSet(lowland,'#47a862','-1'),
    pollenSet(montane,'#f18a00','-1'),
    {type:'line', data:zeaMarks.map(y => ({x:y, y:1.5})), showLine:false, pointStyle:'rect', pointRadius:1.1, pointBackgroundColor:'#000', pointBorderWidth:0, stack:'m'}]},
  {top:593, bot:610, min:0, max:90, rev:true, ticks:[0,40,80], sets:[ln(aulacoseira)]},
  {top:612, bot:631, min:8, max:40, ticks:[35,25,15], sets:[ln(amatitlanPinus)]},
  {top:632, bot:652, min:12, max:103, ticks:[90,60,30], sets:[ln(petapillaPinus)]},
  {top:652, bot:673, min:8, max:92, ticks:[80,60,40,20], sets:[ln(najaPinus)]},
  {top:675, bot:696, min:0, max:105, ticks:[90,60,30], sets:[ln(ocotalitoSr)]},
  {top:698, bot:718, min:-6.6, max:-0.5, ticks:[-2,-4,-6], base:-5.5, sets:[ln(ocotalitoO)]},
  {top:722, bot:741, min:-7, max:3, ticks:[2,0,-2,-4,-6], base:-4, sets:[ln(aljojuca,{borderColor:'#666'})]},
  {top:741, bot:764, min:-11.1, max:-6.7, ticks:[-7,-8,-9,-10,-11], base:-9, fmt:oneDec, sets:[ln(cuevaDiablo)]},
  {top:764, bot:784, min:-9.2, max:-4.8, ticks:[-5,-6,-7,-8,-9], base:-7.6, fmt:oneDec, sets:[ln(juxtlahuaca,{borderColor:'#111', borderWidth:0.9})]},
  {top:785, bot:803, min:-0.005, max:0.031, rev:true, ticks:[0,0.01,0.02], fmt:twoDec, sets:[ln(juanacatlan,{borderColor:'#444'})]}
];
const titlesB = [
  [421,'Us.-Gr. beach ridge plain, relative elevation (this study)','m'],
  [449,'Tuspan, diatoms, PC axis 1 (this study)','Score'],
  [464,'Tuspan, am. silica / palaeofloods (this study)','% dw / cm'],
  [493,'Charred plant fragments (this study)','Parts/cm<sup>3</sup><br>g dw'],
  [523,'Petén-Itzá: chamber','No cm<sup>-3</sup>'],
  [556,'Petén-Itzá: pollen','%'],
  [596,'Amatitlán <i>Aulacoseira</i>','%'],
  [617,'Amatitlán <i>Pinus</i>','%'],
  [638,'Petapilla <i>Pinus</i>','%'],
  [660,'Naja <i>Pinus</i>','%'],
  [678,'Ocotalito, Sr','ppm'],
  [703,'Ocotalito, δ<sup>18</sup>O','‰'],
  [725,'Aljojuca, carbonate δ<sup>18</sup>O','‰'],
  [748,'Cueva del Diablo, δ<sup>18</sup>O','‰'],
  [768,'Juxtlahuaca, δ<sup>18</sup>O','‰'],
  [798,'Juanacatlán, Ti-15pm','Normalized<br>Ti']
];

// ---------- build ----------
box(4, 209); box(213, 405); box(411, 588); box(591, 719); box(721, 814);
bgChart(5, 402, AXL, AXR, [25,48,71,94,116,139,162,185,238,261,285,308,330,352,374]);
bgChart(412, 812, BXL, BXR, [436,457,488,517,547,612,632,653,673,696,742,763,784]);
rowsA.forEach(r => rowChart(r, AXL, AXR));
rowsB.forEach(r => rowChart(r, BXL, BXR));

titlesA.forEach((t,i) => {
  div('t', t[1], AXL + 1, t[0] - 3);
  const r = rowsA[i];
  div('u', t[2], 18, (r.top + r.bot) / 2);
});
div('t', 'Macal Chasm, d18O', 97, 164);
titlesB.forEach((t,i) => {
  div('t', t[1], BXL + 1, t[0] - 3);
  const r = rowsB[i];
  div('u', t[2], i === 15 ? 9 : 18, (r.top + r.bot) / 2);
});

div('pl', '(a)', 2, 0);
div('pl', '(b)', 2, 412);
div('reg', 'Central Maya lowlands', 7, 105);
div('reg', 'Northern Maya lowlands', 7, 308);
div('reg', 'Central Maya lowlands', 7, 498);
div('reg', 'Maya highlands', 7, 645);
div('reg', 'Central Mexico', 7, 757);
div('t', '<b>Year CE</b>', 161, 400);
div('t', '<b>Year CE</b>', 239, 807);
div('s', 'Total', 163, 529);
div('s', 'Grasses', 250, 532);
div('s', 'Montane', 128, 550);
div('s', 'Lowland forest', 139, 560);
div('s', 'Disturbance', 160, 579);
div('s', '<i>Zea mays</i> pollen', 97, 581.5);
</script>
</body>
</html>
